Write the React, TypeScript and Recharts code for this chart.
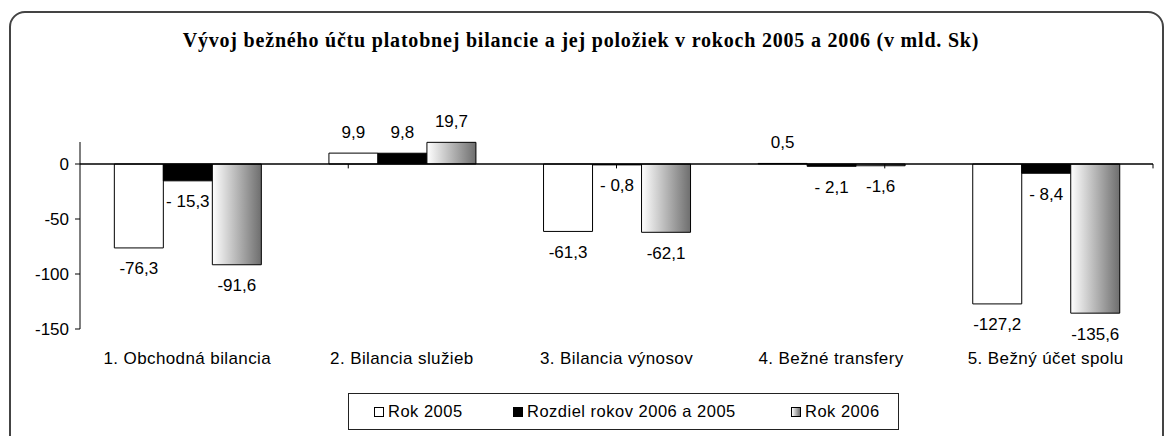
import React from 'react';
import {
  BarChart, Bar, XAxis, YAxis, ReferenceLine, LabelList,
} from 'recharts';

const CATEGORIES = [
  '1. Obchodná bilancia',
  '2. Bilancia služieb',
  '3. Bilancia výnosov',
  '4. Bežné transfery',
  '5. Bežný účet spolu',
];
const ROK_2005 = [-76.3, 9.9, -61.3, 0.5, -127.2];
const ROZDIEL = [-15.3, 9.8, -0.8, -2.1, -8.4];
const ROK_2006 = [-91.6, 19.7, -62.1, -1.6, -135.6];
const Y_TICKS = [0, -50, -100, -150];

const SERIES = [
  { key: 'r2005', name: 'Rok 2005', fill: '#ffffff', spaced: false },
  { key: 'diff', name: 'Rozdiel rokov 2006 a 2005', fill: '#000000', spaced: true },
  { key: 'r2006', name: 'Rok 2006', fill: 'url(#gradRok2006)', spaced: false },
];

const data = CATEGORIES.map((name, i) => ({
  name,
  r2005: ROK_2005[i],
  diff: ROZDIEL[i],
  r2006: ROK_2006[i],
}));

const FONT = '"Liberation Sans", Arial, sans-serif';

const fmt = (v: number, spaced: boolean) => {
  const s = Math.abs(v).toFixed(1).replace('.', ',');
  if (v < 0) return spaced ? `- ${s}` : `-${s}`;
  return s;
};

const makeLabel = (spaced: boolean) => (props: any) => {
  const { x, y, width, height, value } = props;
  const top = Math.min(y, y + height);
  const bottom = Math.max(y, y + height);
  const cy = value >= 0 ? top - 21 : bottom + 21;
  return (
    <text
      x={x + width / 2}
      y={cy}
      textAnchor="middle"
      dominantBaseline="central"
      fontFamily={FONT}
      fontSize={17}
      fill="#000"
    >
      {fmt(value, spaced)}
    </text>
  );
};

// left edge of each legend entry inside the box, like the excel original
const LEGEND_LEFT = [25, 164, 442];

const LegendBox = () => (
  <div
    style={{
      position: 'absolute', left: 348, top: 393, width: 551, height: 37,
      border: '1.5px solid #222', boxSizing: 'border-box',
      fontFamily: FONT, fontSize: 16.5, letterSpacing: 0.5, whiteSpace: 'nowrap',
      background: '#fff',
    }}
  >
    {SERIES.map((s, i) => (
      <div
        key={s.key}
        style={{
          position: 'absolute', left: LEGEND_LEFT[i], top: 0, bottom: 0,
          display: 'flex', alignItems: 'center',
        }}
      >
        <span
          style={{
            display: 'inline-block', width: 10, height: 10, marginRight: 4,
            border: '1px solid #000', boxSizing: 'border-box',
            background: s.key === 'r2006'
              ? 'linear-gradient(to right, #ffffff, #6e6e6e)'
              : s.fill,
          }}
        />
        <span>{s.name}</span>
      </div>
    ))}
  </div>
);

export default function App() {
  const boundaries = CATEGORIES.map((_, i) => i + 1);
  return (
    <div style={{ position: 'absolute', left: 0, top: 0, width: 1167, height: 436, background: '#fff', overflow: 'hidden' }}>
      <div
        style={{
          position: 'absolute', left: 9, top: 11, width: 1155, height: 450,
          border: '2px solid #444', borderRadius: 16, boxSizing: 'border-box',
        }}
      />
      <div
        style={{
          position: 'absolute', left: 0, top: 29, width: 1162, textAlign: 'center',
          fontFamily: '"Liberation Serif", "Times New Roman", serif', fontWeight: 'bold',
          fontSize: 20, letterSpacing: 0.8,
        }}
      >
        Vývoj bežného účtu platobnej bilancie a jej položiek v rokoch 2005 a 2006 (v mld. Sk)
      </div>
      <div style={{ position: 'absolute', left: 0, top: 0 }}>
        <BarChart
          width={1167}
          height={436}
          data={data}
          margin={{ top: 142, right: 14, bottom: 77, left: 20 }}
          barCategoryGap="16%"
          barGap={0}
        >
          <defs>
            <linearGradient id="gradRok2006" x1="0" y1="0" x2="1" y2="0">
              <stop offset="0%" stopColor="#ffffff" />
              <stop offset="100%" stopColor="#6e6e6e" />
            </linearGradient>
          </defs>
          <XAxis
            dataKey="name"
            axisLine={false}
            tickLine={false}
            tickSize={6}
            tickMargin={17}
            interval={0}
            tick={{ fill: '#000', fontSize: 17, fontFamily: FONT, letterSpacing: 0.4 }}
          />
          <XAxis xAxisId="b" type="number" domain={[0, CATEGORIES.length]} hide />
          <YAxis
            width={60}
            domain={[-150, 20]}
            ticks={Y_TICKS}
            interval={0}
            axisLine={{ stroke: '#000' }}
            tickLine={{ stroke: '#000' }}
            tickSize={5}
            tickMargin={6}
            tick={{ fill: '#000', fontSize: 17, fontFamily: FONT }}
          />
          {SERIES.map((s) => (
            <Bar
              key={s.key}
              dataKey={s.key}
              name={s.name}
              fill={s.fill}
              stroke="#000"
              strokeWidth={1}
              isAnimationActive={false}
            >
              <LabelList dataKey={s.key} content={makeLabel(s.spaced)} />
            </Bar>
          ))}
          <ReferenceLine y={0} stroke="#000" strokeWidth={1.5} />
          {boundaries.map((b) => (
            <ReferenceLine
              key={b}
              xAxisId="b"
              segment={[{ x: b, y: 0 }, { x: b, y: -4 }]}
              stroke="#000"
            />
          ))}
        </BarChart>
      </div>
      <LegendBox />
    </div>
  );
}
